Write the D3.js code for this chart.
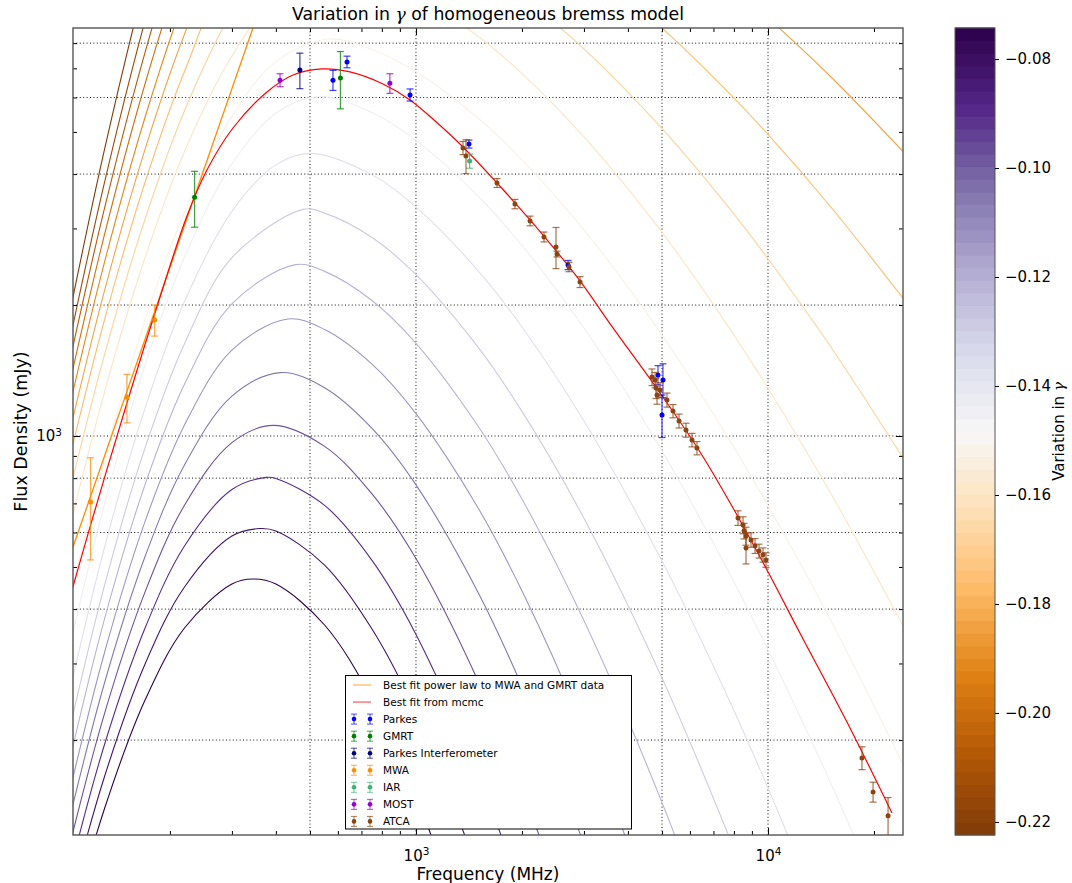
<!DOCTYPE html>
<html><head><meta charset="utf-8">
<script src="https://cdn.jsdelivr.net/npm/d3@7"></script>
<style>
body{margin:0;background:#fff}
svg text{font-family:"DejaVu Sans",sans-serif}
</style>
</head><body>
<svg id="chart" width="1072" height="883"></svg>
<script>
// ---------------- data ----------------
const gammaValues = [-0.0743,-0.0821,-0.0899,-0.0977,-0.1055,-0.1133,-0.1211,-0.1289,-0.1367,-0.1444,
  -0.1522,-0.1600,-0.1678,-0.1756,-0.1834,-0.1912,-0.1990,-0.2068,-0.2146,-0.2224];
// model curves for each gamma: [frequency MHz, flux mJy]
const gammaCurves = [
 [[100,65.8],[130,138.1],[170,247.2],[220,361.9],[300,456.8],[344.3,469.1],[400,456.8],[550,367.7],[750,248.5],[1000,149.5],[1500,57.7]],
 [[100,76.0],[130,163.6],[170,299.1],[220,449.7],[300,589],[359.5,612.6],[400,604.9],[550,505.0],[750,360.0],[1000,230.8],[1500,100.0]],
 [[100,88.1],[130,193.8],[170,361.9],[220,558.7],[300,753.4],[375.8,803.1],[400,798.9],[550,692.9],[750,517.6],[1000,349.9],[1500,167.6],[2000,87.6]],
 [[100,101.4],[130,228.2],[170,438.1],[220,693.3],[300,965.2],[393.4,1057.7],[550,946.5],[750,736.0],[1000,522.6],[1500,273.8],[2000,155.1],[3000,60.2]],
 [[100,116.7],[130,268.4],[170,528.4],[220,857.8],[300,1234.5],[412.4,1398.5],[550,1290.7],[750,1041.0],[1000,771.9],[1500,437.6],[2000,265.6],[3000,115.4]],
 [[100,134.0],[130,315.0],[170,636.4],[220,1060],[300,1576],[432.9,1858],[550,1757],[750,1463],[1000,1126],[1500,684.2],[2000,440.6],[3000,211.7],[5000,70.5]],
 [[100,157.7],[130,376.2],[170,773.2],[220,1315],[300,2013],[455,2477],[550,2390],[750,2048],[1000,1633],[1500,1054],[2000,716.4],[3000,376.4],[5000,143.6],[7500,59.5]],
 [[100,185.8],[130,449.4],[170,939.4],[220,1630],[300,2569],[478.7,3319],[550,3253],[750,2860],[1000,2348],[1500,1600],[2000,1139],[3000,647.1],[5000,277.6],[7500,128.1],[10000,70.4]],
 [[100,226.6],[130,549.5],[170,1159],[220,2037],[300,3284],[400,4200],[504.3,4463],[750,3983],[1000,3357],[1500,2400],[2000,1781],[3000,1083],[5000,515.8],[7500,262.2],[10000,155.2],[15000,69.8]],
 [[100,287.4],[130,691.8],[170,1457],[220,2576],[300,4219],[400,5519],[532.2,6028],[750,5539],[1000,4781],[1500,3562],[2000,2742],[3000,1771],[5000,923.2],[7500,510.3],[10000,322.7],[15000,160.6],[25000,61.6]],
 [[100,368.8],[130,878.4],[170,1845],[220,3273],[300,5429],[400,7253],[562.3,8175],[750,7736],[1000,6876],[1500,5383],[2000,4314],[3000,2978],[5000,1706],[7500,1026],[10000,691.8],[15000,379.7],[25000,166.3]],
 [[100,543.1],[130,1252],[170,2572],[220,4510],[300,7472],[400,10106],[596.8,11785],[750,11379],[1000,10302],[1500,8299],[2000,6811],[3000,4871],[5000,2937],[7500,1847],[10000,1288],[15000,743.5],[25000,348.4]],
 [[100,657.9],[130,1524],[170,3154],[220,5593],[300,9434],[400,13015],[628.5,15762],[1000,14325],[1500,12037],[2000,10231],[3000,7758],[5000,5087],[7500,3456],[10000,2555],[15000,1612],[25000,853.1]],
 [[100,786.7],[130,1833],[170,3831],[220,6883],[300,11840],[666.6,21206],[1000,19901],[1500,17370],[2000,15258],[3000,12196],[5000,8660],[7500,6310],[10000,4935],[15000,3378],[25000,2003]],
 [[100,899.5],[130,2138],[170,4565],[220,8387],[300,14859],[711.7,25386],[1000,24406],[1500,21997],[3000,19045],[5000,14447],[7500,11177],[10000,9141],[15000,6722],[25000,4383]],
 [[100,1030],[130,2486],[170,5403],[220,10118],[300,18370],[754.9,39174],[1000,38264],[2000,32546],[5000,22550],[10000,15532],[15000,12081],[25000,8517]],
 [[100,1156],[130,2875],[170,6452],[220,12445],[300,23428],[805.9,55871],[2000,48684],[10000,26800],[25000,16393]],
 [[100,1292],[130,3305],[170,7620],[220,15111],[300,29390],[854.9,77980],[2000,70483],[10000,43488],[25000,29130]],
 [[100,1436],[130,3788],[170,9016],[220,18421],[300,37145],[912.7,111760],[2000,103820],[10000,70320],[25000,50710]],
 [[100,1653],[130,4508],[170,11109],[220,23461],[980.6,171600],[2000,162700],[25000,90440]]
];
const mcmcFit = [[97.4,352],[118.6,618],[151.0,1191],[181.4,1918],[223.6,3204],[254.8,4088],[302.1,5105],[377.3,6177],
 [447.4,6760],[540.7,6979],[649.4,6869],[805.9,6444],[961.6,5923],[1117,5354],[1360,4617],[1699,3816],[2109,3138],
 [2515,2649],[2924,2272],[3628,1772],[4934,1256],[6411,919],[7955,683],[9936,492],[12330,352],[16760,220],[22500,136]];
const powerLawFit = [[100,484],[400,12300]];

// measurements: [frequency MHz, flux mJy, error mJy]
const parkesData = [[581,6577,349],[637,7244,223],[962,6082,195],[1414,4690,100],[2704,2472,60],[4869,1381,70],[5030,1345,120],[4999,1117,125]];
const gmrtData = [[235,3540,520],[610,6650,1000]];
const parkesIntData = [[468,6936,650]];
const mwaData = [[119,705,186],[151,1229,157],[181,1848,151]];
const iarData = [[1420,4286,160]];
const mostData = [[411,6577,225],[843,6468,335]];
const atcaData = [[1360,4594,160],[1387,4403,395],[1699,3816,90],[1911,3414,85],[2109,3122,80],[2310,2868,75],
 [2499,2720,295],[2515,2620,40],[2721,2446,60],[2924,2259,65],
 [4682,1366,60],[4775,1345,55],[4806,1289,70],[4838,1243,60],[4934,1276,50],[5165,1210,45],[5372,1141,40],
 [5588,1083,40],[5848,1032,38],[6083,979,35],[6284,938,33],
 [8218,648,25],[8492,624,28],[8547,605,25],[8660,589,28],[8660,553,45],[8948,577,22],[9186,559,22],[9428,544,20],
 [9678,533,20],[9870,519,20],
 [18490,182,11],[19880,152,8],[21930,134,13.5]];

const datasets = [
  {name:"Parkes", color:"#0000ff", data:parkesData},
  {name:"GMRT", color:"#008000", data:gmrtData},
  {name:"Parkes Interferometer", color:"#000080", data:parkesIntData},
  {name:"MWA", color:"#ff8c00", data:mwaData},
  {name:"IAR", color:"#3cb371", data:iarData},
  {name:"MOST", color:"#9400d3", data:mostData},
  {name:"ATCA", color:"#8b4513", data:atcaData}
];

const xMajorTicks = [1000,10000];
const xMinorTicks = [200,300,400,500,600,700,800,900,2000,3000,4000,5000,6000,7000,8000,9000,20000];
const yMajorTicks = [1000];
const yMinorTicks = [200,300,400,500,600,700,800,900,2000,3000,4000,5000,6000,7000,8000];
const xGridValues = [500,1000,5000,10000];
const yGridValues = [200,400,600,800,1000,2000,4000,6000,8000];
const cbarTicks = [-0.22,-0.20,-0.18,-0.16,-0.14,-0.12,-0.10,-0.08];
const puorColors = ["#7f3b08","#b35806","#e08214","#fdb863","#fee0b6","#f7f7f7","#d8daeb","#b2abd2","#8073ac","#542788","#2d004b"];

// ---------------- layout ----------------
const L = 73, R = 903, T = 28, B = 835;
const svg = d3.select("#chart");
const x = d3.scaleLog().domain([106.1, 24180]).range([L, R]);
const y = d3.scaleLog().domain([121.0, 8667]).range([B, T]);
const gMin = d3.min(gammaValues), gMax = d3.max(gammaValues);
const cmap = d3.piecewise(d3.interpolateRgb, puorColors);
const gNorm = d3.scaleLinear().domain([gMin, gMax]).range([0, 1]);

svg.append("rect").attr("width",1072).attr("height",883).attr("fill","#fff");
svg.append("defs").append("clipPath").attr("id","clip").append("rect")
  .attr("x",L).attr("y",T).attr("width",R-L).attr("height",B-T);

// grid
const grid = svg.append("g").attr("stroke","#111").attr("stroke-width",1).attr("stroke-dasharray","1,2.4");
grid.selectAll(".gx").data(xGridValues).join("line")
  .attr("x1",d=>x(d)).attr("x2",d=>x(d)).attr("y1",T).attr("y2",B);
grid.selectAll(".gy").data(yGridValues).join("line")
  .attr("y1",d=>y(d)).attr("y2",d=>y(d)).attr("x1",L).attr("x2",R);

// curves
const line = d3.line().x(d=>x(d[0])).y(d=>y(d[1])).curve(d3.curveCatmullRom.alpha(0.5));
const plot = svg.append("g").attr("clip-path","url(#clip)");
plot.selectAll(".model").data(gammaCurves).join("path")
  .attr("fill","none").attr("stroke-width",1.1)
  .attr("stroke",(d,i)=>cmap(gNorm(gammaValues[i])))
  .attr("d",line);
plot.append("path").datum(powerLawFit).attr("fill","none").attr("stroke","#ff8c00").attr("stroke-width",1.3)
  .attr("d",d3.line().x(d=>x(d[0])).y(d=>y(d[1])));
plot.append("path").datum(mcmcFit).attr("fill","none").attr("stroke","#ff0000").attr("stroke-width",1.2)
  .attr("d",line);

// error bars
datasets.forEach(ds=>{
  const g = plot.append("g");
  const eb = g.selectAll("g").data(ds.data).join("g");
  eb.append("line").attr("x1",d=>x(d[0])).attr("x2",d=>x(d[0]))
    .attr("y1",d=>y(d[1]-d[2])).attr("y2",d=>y(d[1]+d[2]))
    .attr("stroke",ds.color).attr("stroke-width",1.2).attr("opacity",0.75);
  [-1,1].forEach(s=>{
    eb.append("line").attr("x1",d=>x(d[0])-3.5).attr("x2",d=>x(d[0])+3.5)
      .attr("y1",d=>y(d[1]+s*d[2])).attr("y2",d=>y(d[1]+s*d[2]))
      .attr("stroke",ds.color).attr("stroke-width",1.2).attr("opacity",0.75);
  });
  eb.append("circle").attr("cx",d=>x(d[0])).attr("cy",d=>y(d[1])).attr("r",2.5).attr("fill",ds.color);
});

// axes
function styleAxis(g){ g.select(".domain").remove(); g.selectAll("line").attr("stroke","#000"); g.selectAll("text").attr("font-size","15px").attr("fill","#000"); }
function supLabels(g){
  g.selectAll("text").each(function(d){
    const t = d3.select(this); const e = Math.round(Math.log10(d));
    t.text(null); t.append("tspan").text("10");
    t.append("tspan").attr("dy","-0.55em").attr("font-size","10.5px").text(e);
  });
}
svg.append("g").attr("transform",`translate(0,${B})`)
  .call(d3.axisBottom(x).tickValues(xMajorTicks).tickSize(-7).tickPadding(15).tickFormat(d=>d))
  .call(styleAxis).call(supLabels);
svg.append("g").attr("transform",`translate(0,${B})`)
  .call(d3.axisBottom(x).tickValues(xMinorTicks).tickSize(-4).tickFormat("")).call(styleAxis);
svg.append("g").attr("transform",`translate(0,${T})`)
  .call(d3.axisTop(x).tickValues(xMajorTicks).tickSize(-7).tickFormat("")).call(styleAxis);
svg.append("g").attr("transform",`translate(0,${T})`)
  .call(d3.axisTop(x).tickValues(xMinorTicks).tickSize(-4).tickFormat("")).call(styleAxis);
svg.append("g").attr("transform",`translate(${L},0)`)
  .call(d3.axisLeft(y).tickValues(yMajorTicks).tickSize(-7).tickPadding(11).tickFormat(d=>d))
  .call(styleAxis).call(supLabels);
svg.append("g").attr("transform",`translate(${L},0)`)
  .call(d3.axisLeft(y).tickValues(yMinorTicks).tickSize(-4).tickFormat("")).call(styleAxis);
svg.append("g").attr("transform",`translate(${R},0)`)
  .call(d3.axisRight(y).tickValues(yMajorTicks).tickSize(-7).tickFormat("")).call(styleAxis);
svg.append("g").attr("transform",`translate(${R},0)`)
  .call(d3.axisRight(y).tickValues(yMinorTicks).tickSize(-4).tickFormat("")).call(styleAxis);

svg.append("rect").attr("x",L).attr("y",T).attr("width",R-L).attr("height",B-T)
  .attr("fill","none").attr("stroke","#555").attr("stroke-width",1.4);

// titles
const title = svg.append("text").attr("x",(L+R)/2).attr("y",20).attr("text-anchor","middle").attr("font-size","17.3px");
title.append("tspan").text("Variation in ");
title.append("tspan").attr("font-family","DejaVu Serif").attr("font-style","italic").text("γ");
title.append("tspan").text(" of homogeneous bremss model");
svg.append("text").attr("x",(L+R)/2).attr("y",880).attr("text-anchor","middle").attr("font-size","17px").text("Frequency (MHz)");
svg.append("text").attr("transform",`translate(27,${(T+B)/2}) rotate(-90)`).attr("text-anchor","middle").attr("font-size","17.5px").text("Flux Density (mJy)");

// legend
const legendItems = [
  {type:"line", color:"#ff8c00", name:"Best fit power law to MWA and GMRT data"},
  {type:"line", color:"#ff0000", name:"Best fit from mcmc"}
].concat(datasets.map(d=>({type:"err", color:d.color, name:d.name})));
const lg = svg.append("g");
lg.append("rect").attr("x",345.5).attr("y",675.5).attr("width",286).attr("height",153.5)
  .attr("fill","#fff").attr("stroke","#000").attr("stroke-width",1);
const row = lg.selectAll("g.row").data(legendItems).join("g").attr("transform",(d,i)=>`translate(0,${685+i*17.05})`);
row.filter(d=>d.type==="line").append("line").attr("x1",353).attr("x2",371).attr("y1",0).attr("y2",0)
  .attr("stroke",d=>d.color).attr("stroke-width",1.3).attr("opacity",0.6);
[354,370].forEach(cx=>{
  const e = row.filter(d=>d.type==="err");
  e.append("line").attr("x1",cx).attr("x2",cx).attr("y1",-5).attr("y2",5).attr("stroke",d=>d.color).attr("opacity",0.7);
  e.append("line").attr("x1",cx-3).attr("x2",cx+3).attr("y1",-5).attr("y2",-5).attr("stroke",d=>d.color).attr("opacity",0.7);
  e.append("line").attr("x1",cx-3).attr("x2",cx+3).attr("y1",5).attr("y2",5).attr("stroke",d=>d.color).attr("opacity",0.7);
  e.append("circle").attr("cx",cx).attr("cy",0).attr("r",2.3).attr("fill",d=>d.color);
});
row.append("text").attr("x",383).attr("y",4).attr("font-size","10.5px").text(d=>d.name);

// colorbar
const CL = 955, CR = 995;
const cy = d3.scaleLinear().domain([-0.2224, -0.0743]).range([B, T]);
const nBands = 64;
const bands = d3.range(nBands).map(i=>-0.2224 + (i+0.5)*(0.1481/nBands));
svg.append("g").selectAll("rect").data(bands).join("rect")
  .attr("x",CL).attr("width",CR-CL)
  .attr("y",d=>cy(d)-(B-T)/nBands/2-0.5).attr("height",(B-T)/nBands+1)
  .attr("fill",d=>cmap(gNorm(d)));
svg.append("rect").attr("x",CL).attr("y",T).attr("width",CR-CL).attr("height",B-T)
  .attr("fill","none").attr("stroke","#555").attr("stroke-width",1);
svg.append("g").attr("transform",`translate(${CR},0)`)
  .call(d3.axisRight(cy).tickValues(cbarTicks).tickSize(4).tickPadding(6).tickFormat(d3.format(".2f")))
  .call(styleAxis);
svg.append("text").attr("transform",`translate(1064,${(T+B)/2}) rotate(-90)`).attr("text-anchor","middle")
  .attr("font-size","15px").call(t=>{
    t.append("tspan").text("Variation in ");
    t.append("tspan").attr("font-family","DejaVu Serif").attr("font-style","italic").text("γ");
  });
</script>
</body></html>
